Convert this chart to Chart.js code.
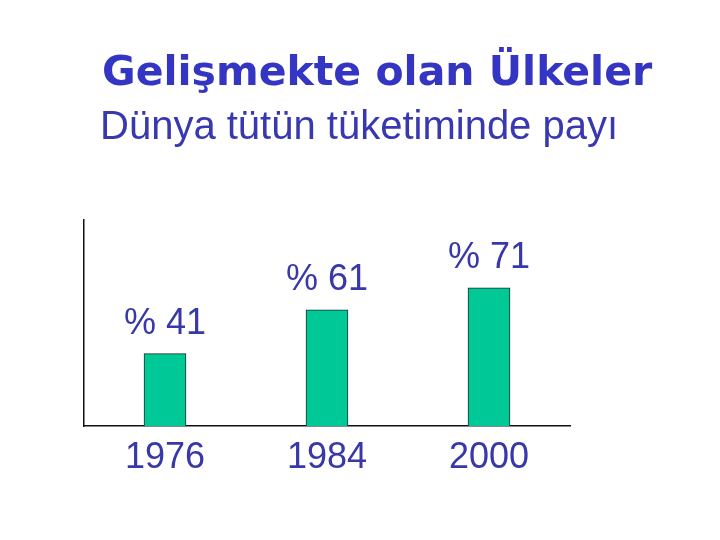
<!DOCTYPE html>
<html>
<head>
<meta charset="utf-8">
<script src="https://cdn.jsdelivr.net/npm/chart.js@4"></script>
<style>
  html, body { margin: 0; padding: 0; background: #fff; }
  #wrap { position: relative; width: 720px; height: 540px; }
  #chart { position: absolute; left: 0; top: 0; }
  .title { position: absolute; left: 102px; top: 47px; margin: 0; line-height: 1;
           font: bold 41px "DejaVu Sans", sans-serif; color: #3535c4; white-space: nowrap; }
  .subtitle { position: absolute; left: 100px; top: 103px; margin: 0; line-height: 1;
              font: 40px "Liberation Sans", sans-serif; color: #3838b0; white-space: nowrap; }
</style>
</head>
<body>
<div id="wrap">
  <canvas id="chart" width="720" height="540"></canvas>
  <h1 class="title">Gelişmekte olan Ülkeler</h1>
  <h2 class="subtitle">Dünya tütün tüketiminde payı</h2>
</div>
<script>
// data
const years = ['1976', '1984', '2000'];
const shares = [41, 61, 71];
const shareLabels = ['% 41', '% 61', '% 71'];

const textBlue = '#3838a8';

// writes "% nn" above each bar
const valueLabels = {
    id: 'valueLabels',
    afterDatasetsDraw(chart) {
        const ctx = chart.ctx;
        const bars = chart.getDatasetMeta(0).data;
        ctx.save();
        ctx.font = '36px "Liberation Sans", sans-serif';
        ctx.fillStyle = textBlue;
        ctx.textAlign = 'center';
        ctx.textBaseline = 'middle';
        bars.forEach((bar, i) => {
            ctx.fillText(shareLabels[i], bar.x, bar.y - 30);
        });
        ctx.restore();
    }
};

new Chart(document.getElementById('chart'), {
    type: 'bar',
    data: {
        labels: years,
        datasets: [{
            data: shares,
            backgroundColor: '#00c896',
            borderColor: '#1c2a22',
            borderWidth: 1,
            barThickness: 42
        }]
    },
    options: {
        responsive: false,
        animation: false,
        layout: {
            padding: { left: 84, right: 150, top: 220, bottom: 54 }
        },
        plugins: {
            legend: { display: false },
            tooltip: { enabled: false }
        },
        scales: {
            x: {
                grid: { display: false, drawTicks: false },
                border: { display: true, color: '#111', width: 1.5 },
                ticks: {
                    padding: 10,
                    color: textBlue,
                    font: { family: '"Liberation Sans", sans-serif', size: 36 }
                },
                afterFit: s => { s.height = 60; }
            },
            y: {
                min: 8,
                max: 102,
                grid: { display: false, drawTicks: false },
                border: { display: true, color: '#111', width: 1.5 },
                ticks: { display: false },
                afterFit: s => { s.width = 0; }
            }
        }
    },
    plugins: [valueLabels]
});
</script>
</body>
</html>
